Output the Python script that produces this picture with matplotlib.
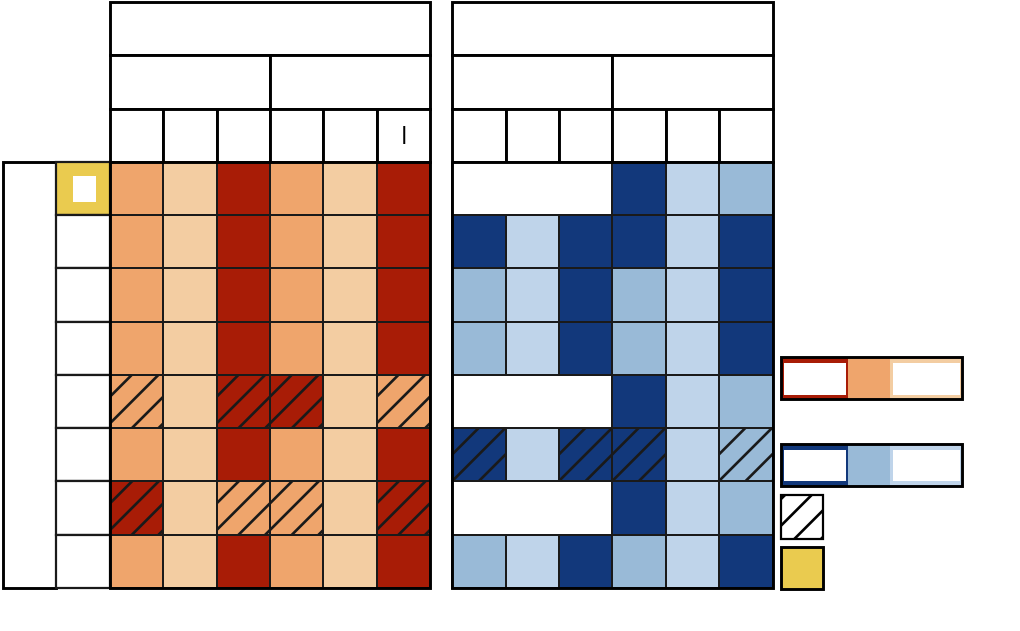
import matplotlib.pyplot as plt
from matplotlib.patches import Rectangle

# labels (drawn in white in the source chart, except one stray black bar)
group_names = ["Group A", "Group B"]
subgroup_names = ["Set 1", "Set 2", "Set 3", "Set 4"]
column_names = ["a", "b", "c", "a", "b", "|", "a", "b", "c", "a", "b", "c"]
row_ids = ["1", "2", "3", "4", "5", "6", "7", "8"]
row_block_label = "Items"
legend_titles = ["Group A level", "Group B level"]
legend_levels = ["High", "Mid", "Low"]
hatch_label = "Changed"
highlight_label = "Reference"
na_label = "n/a"

# 0 = high (dark), 1 = mid, 2 = low (light), None = not available
orange_levels = [
    [1, 2, 0, 1, 2, 0],
    [1, 2, 0, 1, 2, 0],
    [1, 2, 0, 1, 2, 0],
    [1, 2, 0, 1, 2, 0],
    [1, 2, 0, 0, 2, 1],
    [1, 2, 0, 1, 2, 0],
    [0, 2, 1, 1, 2, 0],
    [1, 2, 0, 1, 2, 0],
]
orange_hatch = [
    [0, 0, 0, 0, 0, 0],
    [0, 0, 0, 0, 0, 0],
    [0, 0, 0, 0, 0, 0],
    [0, 0, 0, 0, 0, 0],
    [1, 0, 1, 1, 0, 1],
    [0, 0, 0, 0, 0, 0],
    [1, 0, 1, 1, 0, 1],
    [0, 0, 0, 0, 0, 0],
]
blue_levels = [
    [None, None, None, 0, 2, 1],
    [0, 2, 0, 0, 2, 0],
    [1, 2, 0, 1, 2, 0],
    [1, 2, 0, 1, 2, 0],
    [None, None, None, 0, 2, 1],
    [0, 2, 0, 0, 2, 1],
    [None, None, None, 0, 2, 1],
    [1, 2, 0, 1, 2, 0],
]
blue_hatch = [
    [0, 0, 0, 0, 0, 0],
    [0, 0, 0, 0, 0, 0],
    [0, 0, 0, 0, 0, 0],
    [0, 0, 0, 0, 0, 0],
    [0, 0, 0, 0, 0, 0],
    [1, 0, 1, 1, 0, 1],
    [0, 0, 0, 0, 0, 0],
    [0, 0, 0, 0, 0, 0],
]
highlight_rows = [0]

orange_colors = ["#A81C06", "#EFA56C", "#F3CDA2"]
blue_colors = ["#12387B", "#99BAD7", "#BFD4EA"]
yellow = "#EACB4F"

plt.rcParams["hatch.linewidth"] = 1.2
DPI = 160
fig = plt.figure(figsize=(1020 / DPI, 631 / DPI), dpi=DPI)
ax = fig.add_axes([0, 0, 1, 1])
ax.set_xlim(-0.056, 19.04)
ax.set_ylim(8.806, -3.037)
ax.axis("off")

n_rows = len(row_ids)
n_cols = len(orange_levels[0])
x_orange = 2
x_blue = 8.41
grid_kw = dict(edgecolor="#1a1a1a", linewidth=0.9)
head_kw = dict(facecolor="white", edgecolor="black", linewidth=1.3)
white_txt = dict(color="white", ha="center", va="center", fontsize=6)


def box(x, y, w, h, **kw):
    ax.add_patch(Rectangle((x, y), w, h, **kw))


# header rows
for i, x0 in enumerate([x_orange, x_blue]):
    box(x0, -3, n_cols, 1, **head_kw)
    ax.text(x0 + n_cols / 2, -2.5, group_names[i], **white_txt)
    for j in range(2):
        box(x0 + 3 * j, -2, 3, 1, **head_kw)
        ax.text(x0 + 3 * j + 1.5, -1.5, subgroup_names[2 * i + j], **white_txt)
    for c in range(n_cols):
        box(x0 + c, -1, 1, 1, **head_kw)
        label = column_names[n_cols * i + c]
        if label == "|":
            ax.text(x0 + c + 0.5, -0.5, label, color="black", ha="center", va="center",
                    fontsize=8, fontweight="bold")
        else:
            ax.text(x0 + c + 0.5, -0.5, label, **white_txt)

# row labels
box(0, 0, 1, n_rows, **head_kw)
ax.text(0.5, n_rows / 2, row_block_label, rotation=90, **white_txt)
for r in range(n_rows):
    fc = yellow if r in highlight_rows else "white"
    box(1, r, 1, 1, facecolor=fc, edgecolor="#1a1a1a", linewidth=1.0)
    if r in highlight_rows:
        box(1.31, r + 0.26, 0.43, 0.5, facecolor="white", edgecolor="none")
    ax.text(1.5, r + 0.5, row_ids[r], **white_txt)

# heat cells
for levels, hatches, colors, x0 in [(orange_levels, orange_hatch, orange_colors, x_orange),
                                    (blue_levels, blue_hatch, blue_colors, x_blue)]:
    for r in range(n_rows):
        c = 0
        while c < n_cols:
            lv = levels[r][c]
            if lv is None:
                span = 1
                while c + span < n_cols and levels[r][c + span] is None:
                    span += 1
                box(x0 + c, r, span, 1, facecolor="white", **grid_kw)
                ax.text(x0 + c + span / 2, r + 0.5, na_label, **white_txt)
                c += span
                continue
            box(x0 + c, r, 1, 1, facecolor=colors[lv],
                hatch="//" if hatches[r][c] else None, **grid_kw)
            c += 1
    box(x0, 0, n_cols, n_rows, facecolor="none", edgecolor="black", linewidth=1.3)

# legend
lx = 14.57
seg_w = [1.25, 0.79, 1.35]
for k, (colors, y0) in enumerate([(orange_colors, 3.67), (blue_colors, 5.30)]):
    ax.text(lx + 0.05, y0 - 0.35, legend_titles[k], color="white", ha="left", va="center", fontsize=6)
    x = lx
    for s in range(3):
        box(x, y0, seg_w[s], 0.79, facecolor=colors[s], edgecolor="none")
        if s != 1:
            box(x + 0.05, y0 + 0.1, seg_w[s] - 0.09, 0.6, facecolor="white", edgecolor="none")
            ax.text(x + seg_w[s] / 2, y0 + 0.4, legend_levels[s], **white_txt)
        x += seg_w[s]
    box(lx, y0, sum(seg_w), 0.79, facecolor="none", edgecolor="black", linewidth=1.3)

box(lx, 6.26, 0.79, 0.81, facecolor="white", edgecolor="black", linewidth=1.0, hatch="//")
ax.text(lx + 1.0, 6.66, hatch_label, color="white", ha="left", va="center", fontsize=6)
box(lx, 7.23, 0.79, 0.79, facecolor=yellow, edgecolor="black", linewidth=1.3)
ax.text(lx + 1.0, 7.62, highlight_label, color="white", ha="left", va="center", fontsize=6)

fig.savefig("out.png", dpi=DPI)
